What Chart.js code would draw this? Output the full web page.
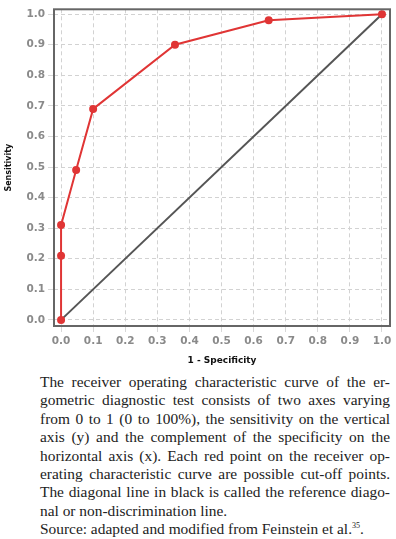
<!DOCTYPE html>
<html>
<head>
<meta charset="utf-8">
<script src="https://cdn.jsdelivr.net/npm/chart.js@4.4.1/dist/chart.umd.min.js"></script>
<style>
  body { margin: 0; background: #fff; }
  #wrap { width: 396px; height: 370px; position: relative; }
  #caption {
    position: absolute; left: 40px; top: 373px; width: 350px;
    font-family: "Liberation Serif", serif; font-size: 15.4px; line-height: 18.4px; color: #222;
  }
  #caption div { text-align: justify; text-align-last: justify; white-space: nowrap; }
  #caption div.last { text-align-last: left; }
  sup { font-size: 8px; line-height: 0; }
</style>
</head>
<body>
<div id="wrap"><canvas id="roc"></canvas></div>
<div id="caption">
  <div>The receiver operating characteristic curve of the er-</div>
  <div>gometric diagnostic test consists of two axes varying</div>
  <div>from 0 to 1 (0 to 100%), the sensitivity on the vertical</div>
  <div>axis (y) and the complement of the specificity on the</div>
  <div>horizontal axis (x). Each red point on the receiver op-</div>
  <div>erating characteristic curve are possible cut-off points.</div>
  <div>The diagonal line in black is called the reference diago-</div>
  <div class="last">nal or non-discrimination line.</div>
  <div class="last">Source: adapted and modified from Feinstein et al.<sup>35</sup>.</div>
</div>
<script>
// pontos da curva ROC (1 - especificidade, sensibilidade)
const umMenosEspec = [0, 0, 0, 0.047, 0.1, 0.355, 0.647, 1.0];
const sensibilidade = [0, 0.21, 0.31, 0.49, 0.69, 0.9, 0.98, 1.0];

// linha de referencia
const diagX = [0, 1];
const diagY = [0, 1];

const tickVals = [0, 0.1, 0.2, 0.3, 0.4, 0.5, 0.6, 0.7, 0.8, 0.9, 1.0];

const pontosRoc = umMenosEspec.map((x, i) => ({ x: x, y: sensibilidade[i] }));
const pontosDiag = diagX.map((x, i) => ({ x: x, y: diagY[i] }));

// moldura em volta da area do grafico
const moldura = {
  id: 'moldura',
  afterDatasetsDraw(chart) {
    const a = chart.chartArea;
    const ctx = chart.ctx;
    ctx.save();
    ctx.strokeStyle = '#666';
    ctx.lineWidth = 2;
    ctx.strokeRect(a.left, a.top, a.right - a.left, a.bottom - a.top);
    ctx.restore();
  }
};

const fonteTick = { family: 'DejaVu Sans', size: 10.5, weight: 'bold' };

const grade = { color: '#d2d2d2', drawTicks: true, tickLength: 6, tickColor: '#d8d8d8' };

const grafico = new Chart(document.getElementById('roc').getContext('2d'), {
  type: 'scatter',
  data: {
    datasets: [
      {
        label: 'Referência',
        data: pontosDiag,
        showLine: true,
        borderColor: '#555555',
        borderWidth: 2,
        pointRadius: 0,
        order: 2
      },
      {
        label: 'ROC',
        data: pontosRoc,
        showLine: true,
        borderColor: '#e03535',
        backgroundColor: '#e03535',
        borderWidth: 2,
        pointRadius: 4,
        pointBorderWidth: 0,
        order: 1
      }
    ]
  },
  options: {
    responsive: true,
    maintainAspectRatio: false,
    animation: false,
    layout: { padding: { top: 6, right: 6, left: 0, bottom: 0 } },
    scales: {
      x: {
        type: 'linear',
        min: -0.022,
        max: 1.025,
        afterBuildTicks: s => { s.ticks = tickVals.map(v => ({ value: v })); },
        afterFit: s => { s.height = 44; },
        ticks: {
          color: '#8a8a8a',
          font: fonteTick,
          padding: 3,
          callback: v => v.toFixed(1)
        },
        grid: grade,
        border: { display: false, dash: [4, 3] },
        title: {
          display: true,
          text: '1 - Specificity',
          color: '#111',
          font: { family: 'DejaVu Sans', size: 9, weight: 'bold' },
          padding: { top: 4 }
        }
      },
      y: {
        type: 'linear',
        min: -0.02,
        max: 1.016,
        afterBuildTicks: s => { s.ticks = tickVals.map(v => ({ value: v })); },
        afterFit: s => { s.width = 54; },
        ticks: {
          color: '#8a8a8a',
          font: fonteTick,
          padding: 3,
          callback: v => v.toFixed(1)
        },
        grid: grade,
        border: { display: false, dash: [4, 3] },
        title: {
          display: true,
          text: 'Sensitivity',
          color: '#111',
          font: { family: 'DejaVu Sans', size: 8, weight: 'bold' },
          padding: { bottom: 2 }
        }
      }
    },
    plugins: {
      legend: { display: false },
      tooltip: { enabled: false }
    }
  },
  plugins: [moldura]
});
</script>
</body>
</html>
